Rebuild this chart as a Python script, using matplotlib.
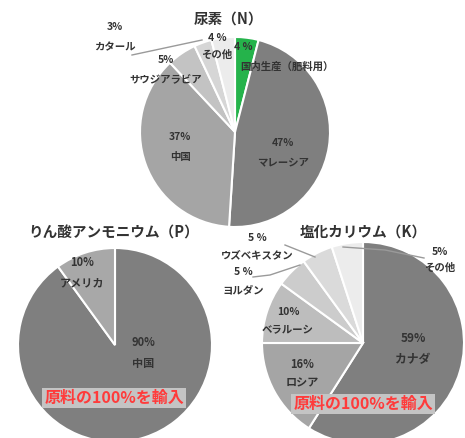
import matplotlib.pyplot as plt

plt.rcParams['font.family'] = ['Noto Sans CJK JP', 'DejaVu Sans']

W, H = 465, 438

# 尿素 (N)
n_labels = ["国内生産（肥料用）", "マレーシア", "中国", "サウジアラビア", "カタール", "その他"]
n_values = [4, 47, 37, 5, 3, 4]
n_pct = ["4 %", "47%", "37%", "5%", "3%", "4 %"]
n_colors = ["#25b34b", "#7f7f7f", "#a5a5a5", "#c3c3c3", "#d6d6d6", "#ececec"]

# りん酸アンモニウム (P)
p_labels = ["中国", "アメリカ"]
p_values = [90, 10]
p_pct = ["90%", "10%"]
p_colors = ["#7f7f7f", "#a8a8a8"]

# 塩化カリウム (K)
k_labels = ["カナダ", "ロシア", "ベラルーシ", "ヨルダン", "ウズベキスタン", "その他"]
k_values = [59, 16, 10, 5, 5, 5]
k_pct = ["59%", "16%", "10%", "5 %", "5 %", "5%"]
k_colors = ["#7f7f7f", "#a5a5a5", "#bdbdbd", "#cccccc", "#dadada", "#ececec"]

fig = plt.figure(figsize=(W / 100, H / 100), dpi=100)
ax = fig.add_axes([0, 0, 1, 1])


def Y(y):
    return H - y


def draw_pie(values, colors, cx, cy, r):
    ax.pie(values, colors=colors, startangle=90, counterclock=False,
           center=(cx, Y(cy)), radius=r, frame=True,
           wedgeprops=dict(edgecolor="white", linewidth=1.5))


def label(x, y, pct, name, gap=18, size=7.5):
    ax.text(x, Y(y), pct, ha="center", va="center", fontsize=size,
            fontweight="bold", color="#333333")
    ax.text(x, Y(y + gap), name, ha="center", va="center", fontsize=size,
            fontweight="bold", color="#333333")


def leader(xs, ys):
    ax.plot(xs, [Y(v) for v in ys], color="#9a9a9a", lw=1.0)


def red_box(x, y):
    ax.text(x, Y(y), "原料の100%を輸入", ha="center", va="center", fontsize=11.5,
            fontweight="bold", color="#ff3b3b",
            bbox=dict(boxstyle="square,pad=0.12", fc="#c4c4c4", ec="none"))


draw_pie(n_values, n_colors, 235, 132, 95)
draw_pie(p_values, p_colors, 115, 345, 97)
draw_pie(k_values, k_colors, 363, 343, 101)

# titles
ax.text(228, Y(19), "尿素（N）", ha="center", va="center", fontsize=10.5, fontweight="bold", color="#333333")
ax.text(114, Y(233), "りん酸アンモニウム（P）", ha="center", va="center", fontsize=10.5, fontweight="bold", color="#333333")
ax.text(363, Y(232), "塩化カリウム（K）", ha="center", va="center", fontsize=10.5, fontweight="bold", color="#333333")

# 尿素 labels
ax.text(243, Y(47), n_pct[0], ha="center", va="center", fontsize=7.5, fontweight="bold", color="#333333")
ax.text(287, Y(67), n_labels[0], ha="center", va="center", fontsize=7.5, fontweight="bold", color="#333333")
label(283, 143, n_pct[1], n_labels[1], gap=19)
label(180, 137, n_pct[2], n_labels[2], gap=20)
label(166, 60, n_pct[3], n_labels[3], gap=20)
label(115, 27, n_pct[4], n_labels[4], gap=20)
label(217, 38, n_pct[5], n_labels[5], gap=17)
leader([132, 202], [55, 40])

# りん酸アンモニウム labels
label(143, 343, p_pct[0], p_labels[0], gap=20, size=8)
label(82, 262, p_pct[1], p_labels[1], gap=21, size=8)
red_box(114, 398)

# 塩化カリウム labels
label(413, 338, k_pct[0], k_labels[0], gap=22, size=8.5)
label(302, 365, k_pct[1], k_labels[1], gap=18, size=8)
label(288, 312, k_pct[2], k_labels[2], gap=18)
label(243, 272, k_pct[3], k_labels[3], gap=18)
label(257, 238, k_pct[4], k_labels[4], gap=17)
label(440, 252, k_pct[5], k_labels[5], gap=16)
leader([285, 315], [245, 257])
leader([253, 270, 300], [277, 275, 265])
leader([343, 385, 424], [247, 250, 258])
red_box(363, 404)

ax.set_xlim(0, W)
ax.set_ylim(0, H)
ax.set_aspect("equal")
ax.axis("off")

fig.savefig("out.png", dpi=100, facecolor="white")
